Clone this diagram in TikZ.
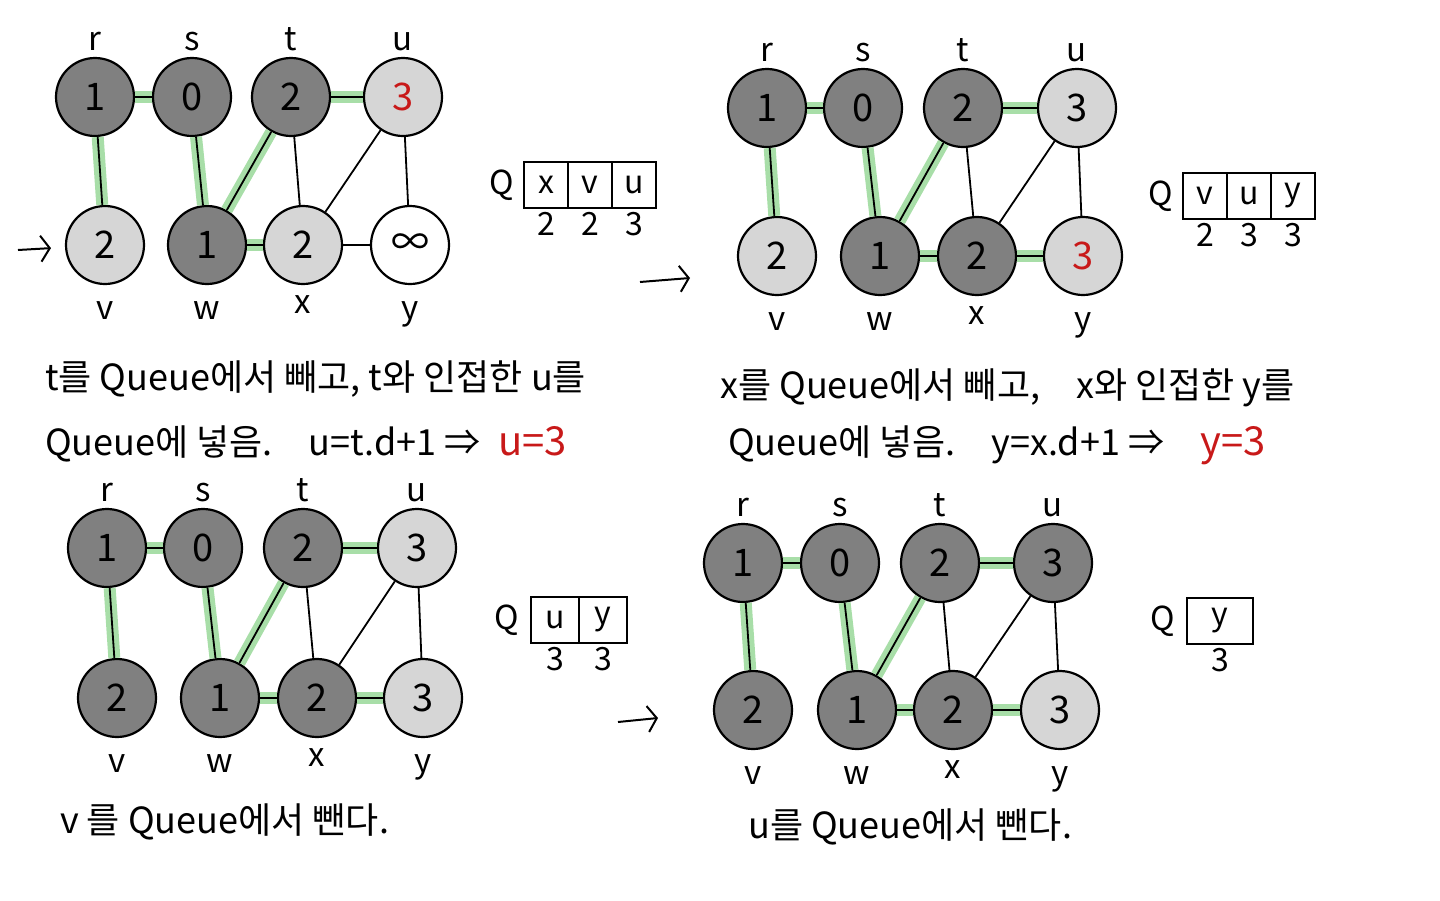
\documentclass[tikz,border=0pt]{standalone}
\usepackage{fontspec}
\setmainfont{Noto Sans CJK KR}
\usetikzlibrary{positioning,arrows.meta}

\definecolor{treegreen}{RGB}{168,222,168}
\definecolor{qred}{RGB}{200,25,25}
\colorlet{done}{black!50}
\colorlet{seen}{black!16}

\tikzset{
  vtx/.style={circle, draw, line width=2.2pt, minimum size=78pt, inner sep=0pt,
    font=\fontsize{38}{38}\selectfont},
  lbl/.style={font=\fontsize{33}{33}\selectfont, inner sep=2pt},
  tree/.style={treegreen, line width=12pt},
  edge/.style={line width=1.8pt},
  qcell/.style={draw, line width=2pt, outer sep=0pt, minimum width=44pt,
    minimum height=46pt, inner sep=0pt, font=\fontsize{32}{32}\selectfont},
  qnum/.style={font=\fontsize{32}{32}\selectfont, inner sep=1pt},
  notetext/.style={anchor=base west, inner sep=0pt, font=\fontsize{36}{36}\selectfont},
  goarrow/.style={line width=2pt, -{Straight Barb[length=9pt, width=26pt]}}
}

\begin{document}
\begin{tikzpicture}[x=1pt, y=-1pt]
\useasboundingbox (0,0) rectangle (1440,900);

% panel 1 : t leaves the queue
\begin{scope}[shift={(95,97)}]
\foreach \n/\px/\py/\c/\d/\p/\ld in {r/0/0/done/1/above/4pt, s/97/0/done/0/above/4pt,
    t/196/0/done/2/above/4pt, u/308/0/seen/\textcolor{qred}{3}/above/4pt,
    v/10/148/seen/2/below/14pt, w/112/148/done/1/below/14pt,
    x/208/148/seen/2/below/8pt, y/315/148/white/∞/below/14pt}
  \node[vtx, fill=\c, label={[lbl, label distance=\ld]\p:\n}] (p1\n) at (\px,\py) {\d};
\foreach \i/\j in {r/s, r/v, s/w, w/t, t/u, w/x}
  \draw[tree] (p1\i) -- (p1\j);
\foreach \i/\j in {r/s, r/v, s/w, w/t, t/u, w/x, t/x, u/x, x/y, u/y}
  \draw[edge] (p1\i) -- (p1\j);
\end{scope}
\coordinate (p1in) at (18,250);
\draw[goarrow, shorten >=14pt] (p1in) -- (p1v);

\node[qcell] (q1a) at (546,185) {x};
\node[qcell, right=0pt of q1a] (q1b) {v};
\node[qcell, right=0pt of q1b] (q1c) {u};
\node[lbl, left=8pt of q1a] (q1q) {Q};
\node[qnum, below=3pt of q1a] (q1na) {2};
\node[qnum, below=3pt of q1b] (q1nb) {2};
\node[qnum, below=3pt of q1c] (q1nc) {3};

\node[notetext] (p1line1) at (45,390) {t를 Queue에서 빼고, t와 인접한 u를};
\node[notetext] (p1line2) at (45,455) {Queue에 넣음.\quad u=t.d+1 ⇒\enspace \textcolor{qred}{\fontsize{40}{40}\selectfont u=3}};

\coordinate (go1a) at (640,282);
\coordinate (go1b) at (690,278);
\draw[goarrow] (go1a) -- (go1b);

% panel 2 : x leaves the queue
\begin{scope}[shift={(767,108)}]
\foreach \n/\px/\py/\c/\d/\p/\ld in {r/0/0/done/1/above/4pt, s/96/0/done/0/above/4pt,
    t/196/0/done/2/above/4pt, u/310/0/seen/3/above/4pt,
    v/10/148/seen/2/below/14pt, w/113/148/done/1/below/14pt,
    x/210/148/done/2/below/8pt, y/316/148/seen/\textcolor{qred}{3}/below/14pt}
  \node[vtx, fill=\c, label={[lbl, label distance=\ld]\p:\n}] (p2\n) at (\px,\py) {\d};
\foreach \i/\j in {r/s, r/v, s/w, w/t, t/u, w/x, x/y}
  \draw[tree] (p2\i) -- (p2\j);
\foreach \i/\j in {r/s, r/v, s/w, w/t, t/u, w/x, t/x, u/x, x/y, u/y}
  \draw[edge] (p2\i) -- (p2\j);
\end{scope}

\node[qcell] (q2a) at (1205,196) {v};
\node[qcell, right=0pt of q2a] (q2b) {u};
\node[qcell, right=0pt of q2b] (q2c) {y};
\node[lbl, left=8pt of q2a] (q2q) {Q};
\node[qnum, below=3pt of q2a] (q2na) {2};
\node[qnum, below=3pt of q2b] (q2nb) {3};
\node[qnum, below=3pt of q2c] (q2nc) {3};

\node[notetext] (p2line1) at (720,398) {x를 Queue에서 빼고,\quad x와 인접한 y를};
\node[notetext] (p2line2) at (728,455) {Queue에 넣음.\quad y=x.d+1 ⇒\quad \textcolor{qred}{\fontsize{40}{40}\selectfont y=3}};

% panel 3 : v leaves the queue
\begin{scope}[shift={(107,548)}]
\foreach \n/\px/\py/\c/\d/\p/\ld in {r/0/0/done/1/above/4pt, s/96/0/done/0/above/4pt,
    t/196/0/done/2/above/4pt, u/310/0/seen/3/above/4pt,
    v/10/150/done/2/below/14pt, w/113/150/done/1/below/14pt,
    x/210/150/done/2/below/8pt, y/316/150/seen/3/below/14pt}
  \node[vtx, fill=\c, label={[lbl, label distance=\ld]\p:\n}] (p3\n) at (\px,\py) {\d};
\foreach \i/\j in {r/s, r/v, s/w, w/t, t/u, w/x, x/y}
  \draw[tree] (p3\i) -- (p3\j);
\foreach \i/\j in {r/s, r/v, s/w, w/t, t/u, w/x, t/x, u/x, x/y, u/y}
  \draw[edge] (p3\i) -- (p3\j);
\end{scope}

\node[qcell, minimum width=48pt] (q3a) at (555,620) {u};
\node[qcell, minimum width=48pt, right=0pt of q3a] (q3b) {y};
\node[lbl, left=10pt of q3a] (q3q) {Q};
\node[qnum, below=3pt of q3a] (q3na) {3};
\node[qnum, below=3pt of q3b] (q3nb) {3};

\node[notetext] (p3line1) at (60,833) {v 를 Queue에서 뺀다.};

\coordinate (go2a) at (618,722);
\coordinate (go2b) at (658,718);
\draw[goarrow] (go2a) -- (go2b);

% panel 4 : u leaves the queue
\begin{scope}[shift={(743,563)}]
\foreach \n/\px/\py/\c/\d/\p/\ld in {r/0/0/done/1/above/4pt, s/97/0/done/0/above/4pt,
    t/197/0/done/2/above/4pt, u/310/0/done/3/above/4pt,
    v/10/147/done/2/below/14pt, w/114/147/done/1/below/14pt,
    x/210/147/done/2/below/8pt, y/317/147/seen/3/below/14pt}
  \node[vtx, fill=\c, label={[lbl, label distance=\ld]\p:\n}] (p4\n) at (\px,\py) {\d};
\foreach \i/\j in {r/s, r/v, s/w, w/t, t/u, w/x, x/y}
  \draw[tree] (p4\i) -- (p4\j);
\foreach \i/\j in {r/s, r/v, s/w, w/t, t/u, w/x, t/x, u/x, x/y, u/y}
  \draw[edge] (p4\i) -- (p4\j);
\end{scope}

\node[qcell, minimum width=66pt] (q4a) at (1220,621) {y};
\node[lbl, left=10pt of q4a] (q4q) {Q};
\node[qnum, below=3pt of q4a] (q4na) {3};

\node[notetext] (p4line1) at (748,838) {u를 Queue에서 뺀다.};
\end{tikzpicture}
\end{document}
